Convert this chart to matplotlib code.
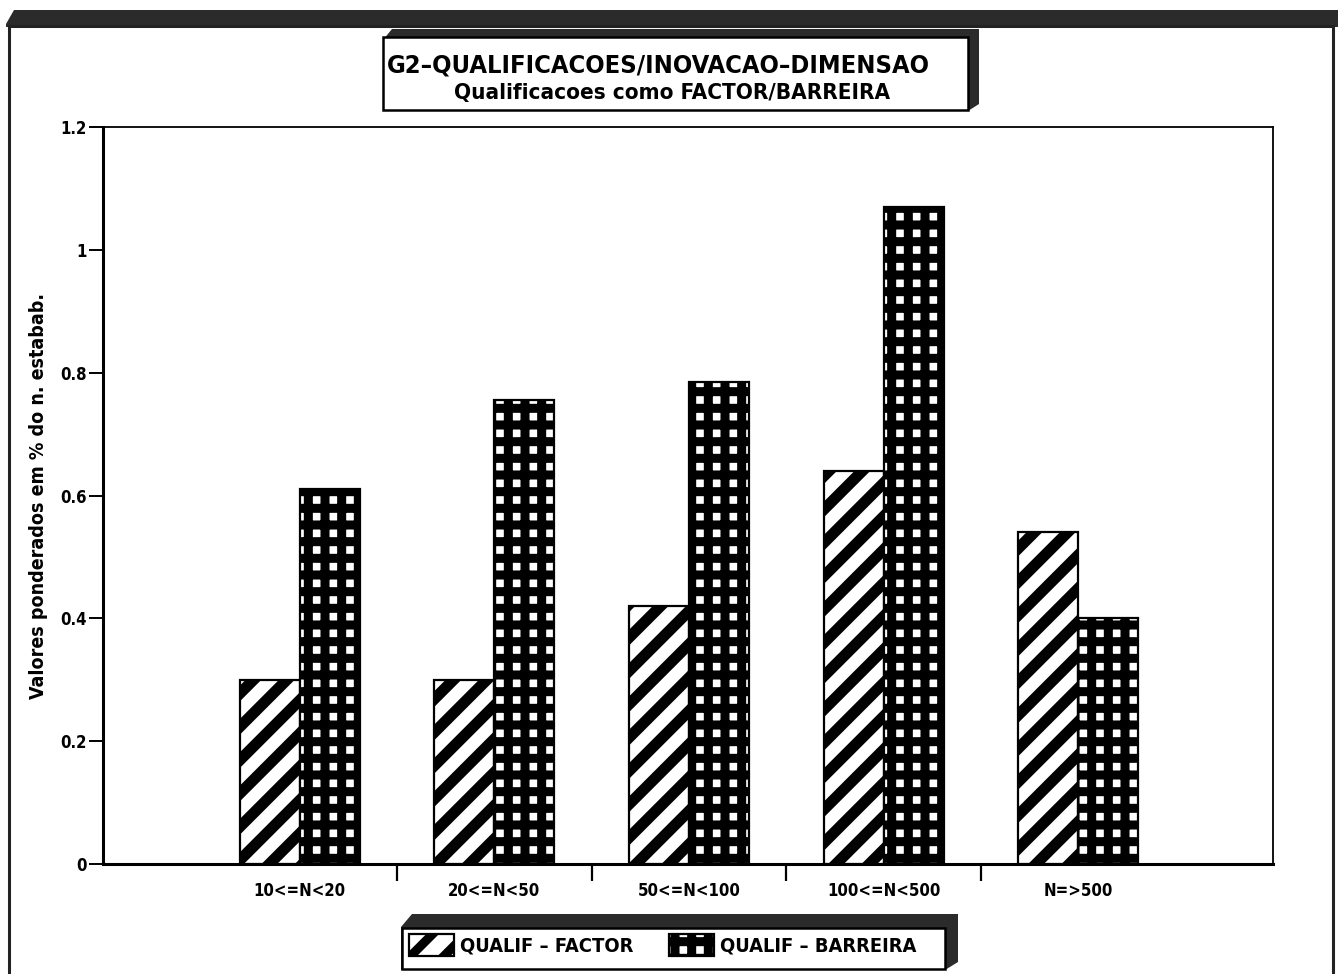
import matplotlib
matplotlib.use("Agg")
import matplotlib.pyplot as plt
import numpy as np
from matplotlib import font_manager
from matplotlib.patches import Polygon, Rectangle
from matplotlib.ticker import FixedLocator, NullFormatter

# --- data -------------------------------------------------------------
categories = ["10<=N<20", "20<=N<50", "50<=N<100", "100<=N<500", "N=>500"]
factor = [0.30, 0.30, 0.42, 0.64, 0.54]
barreira = [0.61, 0.755, 0.785, 1.07, 0.40]
series_labels = ["QUALIF – FACTOR", "QUALIF – BARREIRA"]
y_ticks = [0, 0.2, 0.4, 0.6, 0.8, 1.0, 1.2]
y_tick_labels = ["0", "0.2", "0.4", "0.6", "0.8", "1", "1.2"]
title_main = "G2–QUALIFICACOES/INOVACAO–DIMENSAO"
title_sub = "Qualificacoes como FACTOR/BARREIRA"
y_label = "Valores ponderados em % do n. estabab."

W, H = 1338, 974

# prefer a narrow/condensed face when one is installed
narrow = None
for f in font_manager.fontManager.ttflist:
    nm = f.name.lower()
    if "narrow" in nm or "condensed" in nm:
        narrow = f.name
        break
    if str(f.stretch) in ("condensed", "semi-condensed") or \
            (isinstance(f.stretch, int) and f.stretch < 500):
        narrow = f.name
        break
FONT = ([narrow] if narrow else []) + ["Liberation Sans", "DejaVu Sans"]
STRETCH = "condensed" if narrow else "normal"
plt.rcParams["font.family"] = FONT
plt.rcParams["font.weight"] = "bold"
plt.rcParams["font.stretch"] = STRETCH
plt.rcParams["hatch.color"] = "black"

fig = plt.figure(figsize=(W / 100, H / 100), dpi=100)
fig.patch.set_facecolor("white")
renderer = fig.canvas.get_renderer()


def fx(px):
    return px / W


def fy(py):
    return 1 - py / H


def fit_text(t, width_px, max_size):
    """Shrink a text until it spans at most width_px pixels."""
    t.set_fontsize(max_size)
    w = t.get_window_extent(renderer).width
    if w > width_px:
        t.set_fontsize(max_size * width_px / w)
    return t


def fig_poly(points, **kw):
    pts = [(fx(x), fy(y)) for x, y in points]
    p = Polygon(pts, closed=True, transform=fig.transFigure, **kw)
    fig.add_artist(p)
    return p


def fig_rect(x0, y0, x1, y1, **kw):
    r = Rectangle((fx(x0), fy(y1)), fx(x1) - fx(x0), fy(y0) - fy(y1),
                  transform=fig.transFigure, **kw)
    fig.add_artist(r)
    return r


dark = "#2b2b2b"

# outer frame with a shaded top edge
fig_poly([(6, 24), (14, 10), (1338, 10), (1338, 27), (6, 27)],
         facecolor=dark, edgecolor="none")
fig_rect(9, 26, 1333, 980, facecolor="none", edgecolor="#222222", linewidth=2.2)

# --- axes -------------------------------------------------------------
ax = fig.add_axes([103 / W, 1 - 864 / H, (1273 - 103) / W, (864 - 127) / H])
x = np.arange(len(categories))
bw = 0.308

bars_f = ax.bar(x - bw / 2, factor, bw, facecolor="white", edgecolor="black",
                linewidth=1.6, hatch="/", label=series_labels[0], zorder=2)
bars_b = ax.bar(x + bw / 2, barreira, bw, facecolor="white", edgecolor="black",
                linewidth=1.6, hatch="+", label=series_labels[1], zorder=2)
for b in bars_f:
    if hasattr(b, "set_hatch_linewidth"):
        b.set_hatch_linewidth(8.0)
for b in bars_b:
    if hasattr(b, "set_hatch_linewidth"):
        b.set_hatch_linewidth(6.5)

ax.set_xlim(-1.01, 5.0)
ax.set_ylim(0, 1.2)
ax.set_yticks(y_ticks)
ax.set_yticklabels(y_tick_labels, fontsize=12, fontweight="bold")
ax.set_xticks(x)
ax.set_xticklabels(categories, fontsize=12, fontweight="bold")
ax.xaxis.set_minor_locator(FixedLocator(x[:-1] + 0.5))
ax.xaxis.set_minor_formatter(NullFormatter())
ax.tick_params(axis="x", which="major", length=0, pad=13)
ax.tick_params(axis="x", which="minor", length=12, width=1.6, direction="out")
ax.tick_params(axis="y", length=10, width=1.4, direction="out", pad=2)

for s in ["left", "bottom"]:
    ax.spines[s].set_linewidth(2.2)
for s in ["top", "right"]:
    ax.spines[s].set_linewidth(1.3)

ax.set_ylabel(y_label, fontweight="bold", fontsize=14)
ax.yaxis.set_label_coords(-0.047, 0.5)

# --- title box ----------------------------------------------------------
fig_poly([(383, 40), (392, 29), (979, 29), (979, 104), (968, 111), (383, 111)],
         facecolor=dark, edgecolor="none")
fig_rect(383, 37, 968, 110, facecolor="white", edgecolor="black", linewidth=1.8)
t1 = fig.text(fx(658), fy(65), title_main, fontweight="bold",
              ha="center", va="center")
fit_text(t1, 543, 25)
t2 = fig.text(fx(672), fy(93), title_sub, fontweight="bold",
              ha="center", va="center")
fit_text(t2, 435, 18)

# --- legend box ---------------------------------------------------------
fig_poly([(401, 927), (412, 914), (958, 914), (958, 962), (945, 970), (401, 970)],
         facecolor=dark, edgecolor="none")
fig_rect(402, 928, 945, 969, facecolor="white", edgecolor="black", linewidth=1.8)
probe = fig.text(0, 0, series_labels[0], fontweight="bold")
fit_text(probe, 174, 17)
leg_size = probe.get_fontsize()
probe.remove()
leg = fig.legend(handles=[bars_f, bars_b], labels=series_labels, ncol=2,
                 loc="center left", bbox_to_anchor=(fx(409), fy(945)),
                 frameon=False, prop={"size": leg_size, "weight": "bold"},
                 handlelength=45 / (leg_size * 100 / 72),
                 handleheight=26 / (leg_size * 100 / 72),
                 handletextpad=0.3, columnspacing=1.8, borderaxespad=0,
                 borderpad=0)
for h in leg.legend_handles:
    if hasattr(h, "set_hatch_linewidth"):
        h.set_hatch_linewidth(6.5)

fig.savefig("out.png", dpi=100, facecolor="white")
